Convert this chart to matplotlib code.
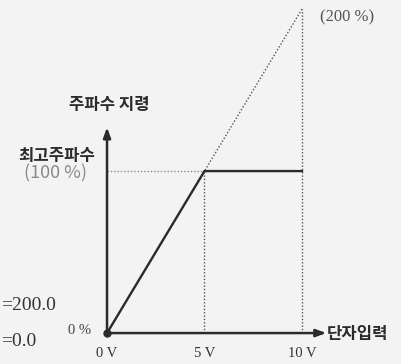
import matplotlib.pyplot as plt

plt.rcParams["font.family"] = ["Noto Sans CJK KR", "DejaVu Sans"]

# terminal input voltage (V) vs frequency command (% of max frequency)
voltage = [0, 5, 10]
command = [0, 100, 100]          # clamped at max frequency
unclamped = [0, 100, 200]        # gain line if not clamped
volt_ticks = [0, 5, 10]
volt_labels = ["0 V", "5 V", "10 V"]
side_values = ["=200.0", "=0.0"]

BG = "#f3f3f3"
INK = "#2b2b2b"
SERIF = ["Liberation Serif", "DejaVu Serif"]
DOT = (0, (1, 1.4))

fig = plt.figure(figsize=(4.01, 3.64), dpi=100, facecolor=BG)
ax = fig.add_axes([0, 0, 1, 1])
ax.set_facecolor(BG)
ax.set_xlim(-5.49, 15.08)
ax.set_ylim(-19.1, 205.6)
ax.axis("off")

# dotted guide lines
ax.plot([voltage[0], voltage[2]], [unclamped[0], unclamped[2]], ls=DOT, lw=1.0, color="#555555")
ax.plot([voltage[1], voltage[1]], [0, command[1]], ls=DOT, lw=1.0, color="#555555")
ax.plot([voltage[2], voltage[2]], [0, unclamped[2]], ls=DOT, lw=1.0, color="#555555")
ax.plot([0, voltage[1]], [command[1], command[1]], ls=DOT, lw=1.0, color="#888888")

# characteristic
ax.plot(voltage, command, color=INK, lw=1.7, solid_joinstyle="miter")

# axes with arrows
ax.annotate("", xy=(11.25, 0), xytext=(0, 0),
            arrowprops=dict(arrowstyle="-|>,head_length=0.6,head_width=0.22",
                            color=INK, lw=1.8, shrinkA=0, shrinkB=0))
ax.annotate("", xy=(0, 127), xytext=(0, 0),
            arrowprops=dict(arrowstyle="-|>,head_length=0.6,head_width=0.22",
                            color=INK, lw=1.8, shrinkA=0, shrinkB=0))
ax.plot([0], [0], "o", color=INK, ms=5)

# tick labels along the input axis
for v, lab in zip(volt_ticks, volt_labels):
    ax.annotate(lab, xy=(v, 0), xytext=(0, -15), textcoords="offset points",
                ha="center", va="center", fontsize=10.5, family=SERIF, color="#333333")

ax.annotate("0 %", xy=(0, 0), xytext=(-20, 1.5), textcoords="offset points",
            ha="center", va="center", fontsize=10.5, family=SERIF, color="#444444")
ax.annotate("(200 %)", xy=(voltage[2], unclamped[2]), xytext=(13, -6), textcoords="offset points",
            ha="left", va="center", fontsize=12, family=SERIF, color="#555555")

ax.annotate("최고주파수", xy=(0, command[1]), xytext=(-36, 11), textcoords="offset points",
            ha="center", va="center", fontsize=12, color=INK, fontweight="bold")
ax.annotate("(100 %)", xy=(0, command[1]), xytext=(-37, -1.5), textcoords="offset points",
            ha="center", va="center", fontsize=13, color="#8a8a8a")
ax.annotate("주파수 지령", xy=(0, 127), xytext=(1.5, 16), textcoords="offset points",
            ha="center", va="center", fontsize=12, color=INK, fontweight="bold")
ax.annotate("단자입력", xy=(11.25, 0), xytext=(0.5, -1), textcoords="offset points",
            ha="left", va="center", fontsize=12, color=INK, fontweight="bold")

# parameter values at the left edge
fig.text(0.002, 1 - 305 / 364, side_values[0], ha="left", va="center",
         fontsize=14, family=SERIF, color="#333333")
fig.text(0.002, 1 - 342 / 364, side_values[1], ha="left", va="center",
         fontsize=14, family=SERIF, color="#333333")

fig.savefig("out.png", dpi=100, facecolor=BG)
